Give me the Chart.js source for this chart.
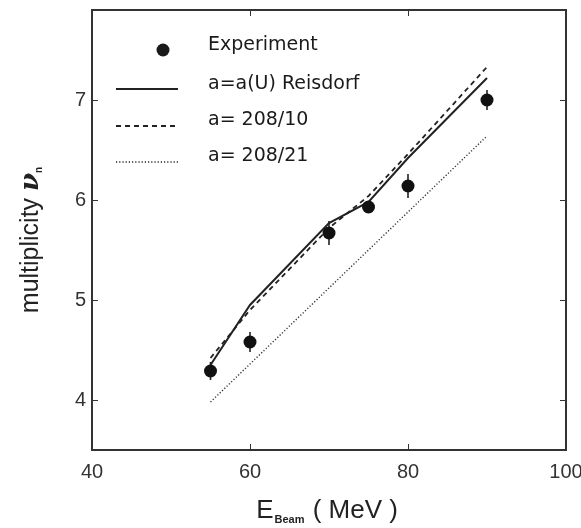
<!DOCTYPE html>
<html>
<head>
<meta charset="utf-8">
<script src="https://cdn.jsdelivr.net/npm/chart.js@4.4.0/dist/chart.umd.min.js"></script>
<style>
  html,body{margin:0;padding:0;background:#fff;}
  #wrap{width:581px;height:528px;}
</style>
</head>
<body>
<div id="wrap"><canvas id="grafico" width="581" height="528"></canvas></div>
<script>
// dados
const energias = [55, 60, 70, 75, 80, 90];
const experimento = [4.29, 4.58, 5.67, 5.93, 6.14, 7.00];
const erroExp = [0.09, 0.10, 0.12, 0.05, 0.12, 0.10];
const reisdorf = [4.35, 4.95, 5.77, 5.98, 6.42, 7.22];
const a208_10 = [4.42, 4.90, 5.72, 6.04, 6.46, 7.33];
const energias21 = [55, 90];
const a208_21 = [3.98, 6.64];
const xTicks = [40, 60, 80, 100];
const yTicks = [4, 5, 6, 7];
const legendas = ['Experiment', 'a=a(U) Reisdorf', 'a= 208/10', 'a= 208/21'];

const pares = (xs, ys) => xs.map((x, i) => ({x: x, y: ys[i]}));
const corLinha = '#222';

// desenha moldura, ticks internos, barras de erro, legenda e títulos
const extras = {
  id: 'extras',
  beforeDatasetsDraw(chart){
    const {ctx, scales:{x, y}} = chart;
    ctx.save();
    ctx.strokeStyle = '#222'; ctx.lineWidth = 1.6;
    energias.forEach((e, i) => {
      const px = x.getPixelForValue(e);
      ctx.beginPath();
      ctx.moveTo(px, y.getPixelForValue(experimento[i] - erroExp[i]));
      ctx.lineTo(px, y.getPixelForValue(experimento[i] + erroExp[i]));
      ctx.stroke();
    });
    ctx.restore();
  },
  afterDraw(chart){
    const {ctx, chartArea:a, scales:{x, y}} = chart;
    ctx.save();
    // moldura
    ctx.strokeStyle = '#333'; ctx.lineWidth = 2;
    ctx.strokeRect(a.left, a.top, a.right - a.left, a.bottom - a.top);
    // ticks para dentro
    ctx.lineWidth = 1;
    xTicks.forEach(v => {
      const px = Math.round(x.getPixelForValue(v)) + 0.5;
      ctx.beginPath();
      ctx.moveTo(px, a.bottom); ctx.lineTo(px, a.bottom - 6);
      ctx.moveTo(px, a.top); ctx.lineTo(px, a.top + 6);
      ctx.stroke();
    });
    yTicks.forEach(v => {
      const py = Math.round(y.getPixelForValue(v)) + 0.5;
      ctx.beginPath();
      ctx.moveTo(a.left, py); ctx.lineTo(a.left + 6, py);
      ctx.moveTo(a.right, py); ctx.lineTo(a.right - 6, py);
      ctx.stroke();
    });

    // legenda
    const lx0 = 116, lx1 = 178, tx = 208;
    ctx.fillStyle = '#1a1a1a'; ctx.strokeStyle = corLinha;
    ctx.font = '19px "DejaVu Sans", sans-serif';
    ctx.textBaseline = 'middle'; ctx.textAlign = 'left';
    const linhasY = [45, 84, 120, 156];
    const amostraY = [50, 89, 126, 162];
    ctx.beginPath(); ctx.arc(163, amostraY[0], 6.5, 0, Math.PI * 2); ctx.fill();
    const estilos = [[], [5, 4], [1.2, 2]];
    const larguras = [2, 1.8, 1.4];
    estilos.forEach((d, i) => {
      ctx.setLineDash(d); ctx.lineWidth = larguras[i];
      ctx.beginPath(); ctx.moveTo(lx0, amostraY[i + 1]); ctx.lineTo(lx1, amostraY[i + 1]); ctx.stroke();
    });
    ctx.setLineDash([]);
    legendas.forEach((t, i) => ctx.fillText(t, tx, linhasY[i]));

    // título eixo x: E_Beam ( MeV )
    ctx.fillStyle = '#222';
    ctx.textBaseline = 'alphabetic';
    ctx.font = '26px "Liberation Sans", Arial, sans-serif';
    const wE = ctx.measureText('E').width;
    ctx.font = 'bold 11px "Liberation Sans", Arial, sans-serif';
    const wB = ctx.measureText('Beam').width;
    ctx.font = '26px "Liberation Sans", Arial, sans-serif';
    const resto = ' ( MeV )';
    const wR = ctx.measureText(resto).width;
    let sx = 327 - (wE + wB + 2 + wR) / 2;
    const base = 518;
    ctx.fillText('E', sx, base); sx += wE + 1;
    ctx.font = 'bold 11px "Liberation Sans", Arial, sans-serif';
    ctx.fillText('Beam', sx, base + 5); sx += wB + 1;
    ctx.font = '26px "Liberation Sans", Arial, sans-serif';
    ctx.fillText(resto, sx, base);

    // título eixo y: multiplicity ν_n
    ctx.save();
    ctx.translate(38, 240);
    ctx.rotate(-Math.PI / 2);
    ctx.font = '25px "Liberation Sans", Arial, sans-serif';
    const t1 = 'multiplicity ';
    const w1 = ctx.measureText(t1).width;
    ctx.font = 'bold italic 26px "DejaVu Serif", serif';
    const w2 = ctx.measureText('ν').width;
    ctx.font = 'bold 10px "Liberation Sans", Arial, sans-serif';
    const w3 = ctx.measureText('n').width;
    let ox = -(w1 + w2 + w3) / 2;
    ctx.font = '25px "Liberation Sans", Arial, sans-serif';
    ctx.fillText(t1, ox, 0); ox += w1;
    ctx.font = 'bold italic 26px "DejaVu Serif", serif';
    ctx.fillText('ν', ox, 0); ox += w2;
    ctx.font = 'bold 10px "Liberation Sans", Arial, sans-serif';
    ctx.fillText('n', ox, 4);
    ctx.restore();

    ctx.restore();
  }
};

new Chart(document.getElementById('grafico'), {
  type: 'scatter',
  data: {
    datasets: [
      {label: legendas[0], data: pares(energias, experimento), showLine: false,
       pointRadius: 6.5, pointBackgroundColor: '#111', pointBorderWidth: 0, order: 0},
      {label: legendas[1], data: pares(energias, reisdorf), showLine: true, pointRadius: 0,
       borderColor: corLinha, borderWidth: 2, order: 1},
      {label: legendas[2], data: pares(energias, a208_10), showLine: true, pointRadius: 0,
       borderColor: corLinha, borderWidth: 1.8, borderDash: [5, 4], order: 2},
      {label: legendas[3], data: pares(energias21, a208_21), showLine: true, pointRadius: 0,
       borderColor: '#333', borderWidth: 1.4, borderDash: [1.2, 2], order: 3}
    ]
  },
  options: {
    responsive: false,
    animation: false,
    layout: {padding: {top: 10, right: 15, left: 0, bottom: 0}},
    plugins: {legend: {display: false}, tooltip: {enabled: false}},
    scales: {
      x: {
        type: 'linear', min: 40, max: 100,
        afterBuildTicks: s => { s.ticks = xTicks.map(v => ({value: v})); },
        afterFit: s => { s.height = 78; s.paddingLeft = 0; s.paddingRight = 0; },
        grid: {display: false, drawTicks: false},
        border: {display: false},
        ticks: {padding: 10, color: '#333', font: {family: '"Liberation Sans", Arial, sans-serif', size: 20}}
      },
      y: {
        type: 'linear', min: 3.5, max: 7.9,
        afterBuildTicks: s => { s.ticks = yTicks.map(v => ({value: v})); },
        afterFit: s => { s.width = 92; s.paddingTop = 0; s.paddingBottom = 0; },
        grid: {display: false, drawTicks: false},
        border: {display: false},
        ticks: {padding: 6, color: '#333', font: {family: '"Liberation Sans", Arial, sans-serif', size: 20}}
      }
    }
  },
  plugins: [extras]
});
</script>
</body>
</html>
